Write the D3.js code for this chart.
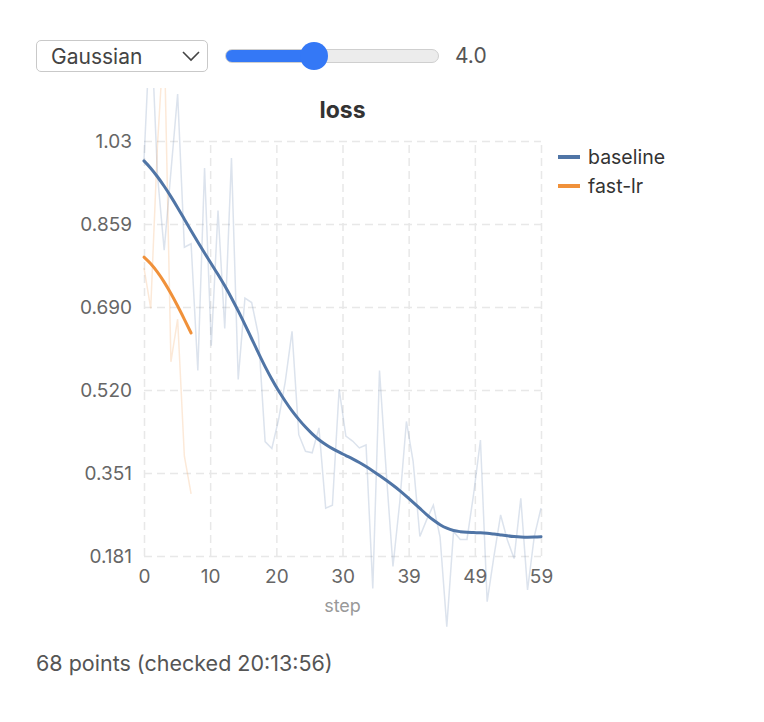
<!DOCTYPE html>
<html>
<head>
<meta charset="utf-8">
<script src="https://cdn.jsdelivr.net/npm/d3@7"></script>
<style>
  body { margin: 0; background: #fff; font-family: Inter, "Liberation Sans", sans-serif; }
  .sel { position: absolute; left: 36px; top: 40px; width: 172px; height: 32px; }
  .sel select {
    -webkit-appearance: none; appearance: none; box-sizing: border-box;
    width: 172px; height: 32px; border: 1px solid #c9c9c9; border-radius: 5px;
    background: #fff; font-family: inherit; font-size: 21px; color: #444; padding: 0 0 0 14px; margin: 0;
  }
  .sel svg { position: absolute; left: 0; top: 0; pointer-events: none; }
  input[type=range] {
    -webkit-appearance: none; appearance: none; position: absolute; left: 225px; top: 42px;
    width: 214px; height: 28px; margin: 0; padding: 0; background: transparent;
  }
  input[type=range]::-webkit-slider-runnable-track {
    height: 14px; border-radius: 7px; box-sizing: border-box; border: 1px solid #cfcfcf;
    background: var(--fill);
  }
  input[type=range]::-webkit-slider-thumb {
    -webkit-appearance: none; width: 28px; height: 28px; border-radius: 50%;
    background: #3478f6; border: none; margin-top: -8px;
  }
  #val { position: absolute; left: 455px; top: 44px; font-size: 21px; color: #555; line-height: 24px; }
  #chart { position: absolute; left: 0; top: 0; }
  #footer { position: absolute; left: 36px; top: 651px; font-size: 21.5px; color: #555; line-height: 24px; }
</style>
</head>
<body>
<div class="sel">
  <select id="kind"></select>
  <svg width="172" height="32"><polyline points="147,12 155,20 163,12" fill="none" stroke="#444" stroke-width="1.6"/></svg>
</div>
<input type="range" id="sigma" min="0" max="10" step="0.1">
<span id="val"></span>
<svg id="chart" width="764" height="722"></svg>
<div id="footer"></div>

<script>
// smoothing choices and current width
var smoothingKinds = ["Gaussian", "EMA", "None"];
var sigma = 4.0;

// series
var seriesNames = ["baseline", "fast-lr"];
var seriesColors = ["#5075a6", "#f0913a"];

// loss per step
var baselineLoss = [
  0.99, 1.285, 0.96, 0.806, 0.966, 1.125, 0.812, 0.819, 0.560, 0.974,
  0.611, 0.887, 0.646, 0.994, 0.542, 0.708, 0.699, 0.633, 0.415, 0.401,
  0.460, 0.538, 0.640, 0.429, 0.395, 0.392, 0.443, 0.279, 0.285, 0.522,
  0.426, 0.416, 0.402, 0.408, 0.115, 0.560, 0.353, 0.160, 0.290, 0.456,
  0.374, 0.221, 0.255, 0.285, 0.220, 0.037, 0.231, 0.215, 0.215, 0.309,
  0.418, 0.088, 0.180, 0.265, 0.214, 0.176, 0.299, 0.112, 0.221, 0.279
];
var fastLrLoss = [0.77, 0.687, 1.02, 1.25, 0.578, 0.665, 0.385, 0.308];

// axes
var xDomain = [0, 59];
var yDomain = [0.1812, 1.029];
var xTickValues = [0, 9.83, 19.67, 29.5, 39.33, 49.17, 59];
var yTickValues = [0.1812, 0.3508, 0.5203, 0.6899, 0.8594, 1.029];

var checkedAt = "20:13:56";

var plotLeft = 144, plotRight = 541, plotTop = 141, plotBottom = 556;
var fontStack = 'Inter, "Liberation Sans", sans-serif';

function gaussian(values, s) {
    var r = Math.ceil(3 * s);
    return values.map(function(v, i) {
        var sum = 0, wsum = 0;
        for (var j = Math.max(0, i - r); j <= Math.min(values.length - 1, i + r); j++) {
            var w = Math.exp(-(j - i) * (j - i) / (2 * s * s));
            sum += w * values[j];
            wsum += w;
        }
        return sum / wsum;
    });
}

// controls
d3.select('#kind').selectAll('option').data(smoothingKinds)
    .enter().append('option').text(function(d) { return d; });
var slider = document.getElementById('sigma');
slider.value = sigma;
var pos = 14 + (sigma / 10) * (214 - 28);
slider.style.setProperty('--fill', 'linear-gradient(to right, #3478f6 0, #3478f6 ' + pos + 'px, #ececec ' + pos + 'px)');
d3.select('#val').text(sigma.toFixed(1));
d3.select('#footer').text((baselineLoss.length + fastLrLoss.length) + ' points (checked ' + checkedAt + ')');

var svg = d3.select('#chart');

var x = d3.scaleLinear().domain(xDomain).range([plotLeft, plotRight]);
var y = d3.scaleLinear().domain(yDomain).range([plotBottom, plotTop]);

svg.append('clipPath').attr('id', 'clip')
    .append('rect').attr('x', 0).attr('y', 88).attr('width', 764).attr('height', 560);

var gx = svg.append('g')
    .attr('transform', 'translate(0,' + plotBottom + ')')
    .call(d3.axisBottom(x).tickValues(xTickValues).tickFormat(d3.format('.0f'))
        .tickSizeInner(-(plotBottom - plotTop)).tickSizeOuter(0).tickPadding(14));
var gy = svg.append('g')
    .attr('transform', 'translate(' + plotLeft + ',0)')
    .call(d3.axisLeft(y).tickValues(yTickValues).tickFormat(d3.format('.3g'))
        .tickSizeInner(-(plotRight - plotLeft)).tickSizeOuter(0).tickPadding(12));

[gx, gy].forEach(function(g) {
    g.select('.domain').remove();
    g.selectAll('line').attr('stroke', '#e8e8e8').attr('stroke-width', 1.5).attr('stroke-dasharray', '8,5');
    g.selectAll('text').attr('fill', '#666').style('font-size', '19px').style('font-family', fontStack);
});

var allSeries = [baselineLoss, fastLrLoss];

var line = d3.line()
    .x(function(d, i) { return x(i); })
    .y(function(d) { return y(d); });

svg.append('g').attr('clip-path', 'url(#clip)')
    .selectAll('path').data(allSeries)
    .enter().append('path')
    .attr('d', line)
    .attr('fill', 'none')
    .attr('stroke', function(d, i) { return seriesColors[i]; })
    .attr('stroke-opacity', 0.2)
    .attr('stroke-width', 1.5);

svg.append('g')
    .selectAll('path').data(allSeries.map(function(s) { return gaussian(s, sigma); }))
    .enter().append('path')
    .attr('d', line.curve(d3.curveMonotoneX))
    .attr('fill', 'none')
    .attr('stroke', function(d, i) { return seriesColors[i]; })
    .attr('stroke-width', 3)
    .attr('stroke-linecap', 'round');

svg.append('text')
    .attr('x', (plotLeft + plotRight) / 2).attr('y', 118)
    .attr('text-anchor', 'middle')
    .style('font-size', '23px').style('font-weight', 'bold').attr('fill', '#333')
    .text('loss');

svg.append('text')
    .attr('x', (plotLeft + plotRight) / 2).attr('y', 612)
    .attr('text-anchor', 'middle')
    .style('font-size', '18px').attr('fill', '#999')
    .text('step');

var legend = svg.selectAll('.legend').data(seriesNames)
    .enter().append('g').classed('legend', true)
    .attr('transform', function(d, i) { return 'translate(558,' + (157 + i * 29) + ')'; });
legend.append('line')
    .attr('x1', 0).attr('x2', 22)
    .attr('stroke', function(d, i) { return seriesColors[i]; })
    .attr('stroke-width', 4);
legend.append('text')
    .attr('x', 30).attr('dy', '0.35em')
    .style('font-size', '19.5px').attr('fill', '#333')
    .text(function(d) { return d; });
</script>
</body>
</html>
